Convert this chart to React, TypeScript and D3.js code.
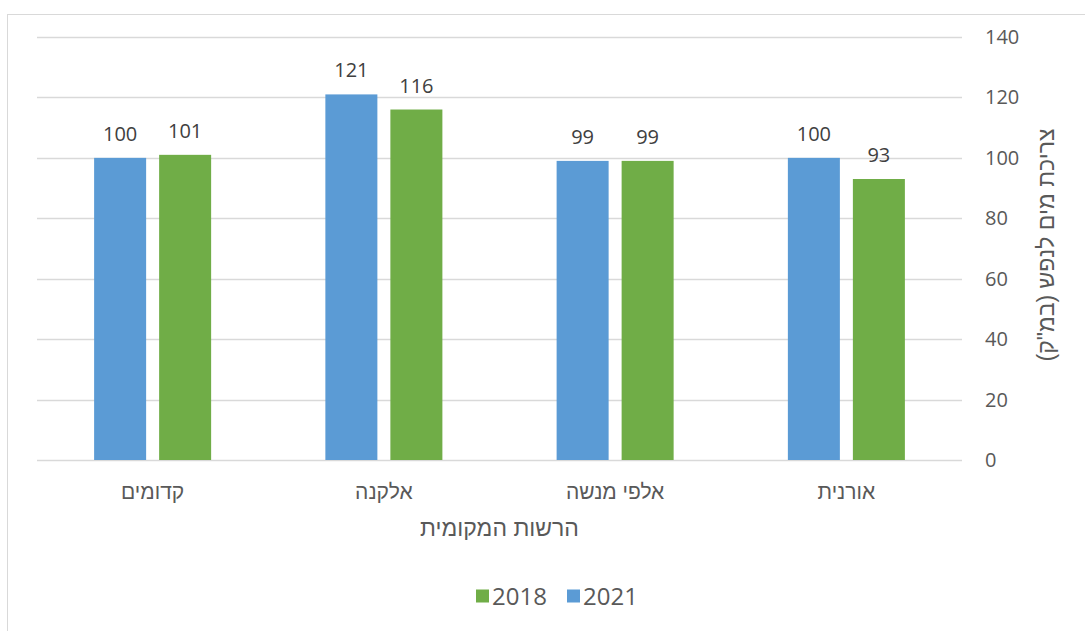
import { useEffect, useRef } from "react"
import * as d3 from "d3"

// categories listed right-to-left as in the original (RTL chart)
const towns = ["אורנית", "אלפי מנשה", "אלקנה", "קדומים"]
const years = ["2021", "2018"]
const values2021 = [100, 99, 121, 100]
const values2018 = [93, 99, 116, 101]
const yTicks = [0, 20, 40, 60, 80, 100, 120, 140]
const legendOrder = ["2018", "2021"]

const colors: Record<string, string> = { "2021": "#5B9BD5", "2018": "#70AD47" }

const W = 1085
const H = 631

export default function App() {
  const svgRef = useRef<SVGSVGElement>(null)

  useEffect(() => {
    if (!svgRef.current) return
    const svg = d3.select(svgRef.current)
    svg.selectAll("*").remove()

    const numFont = "'Open Sans', 'Liberation Sans', sans-serif"
    const hebFont = "'Liberation Sans', 'DejaVu Sans', sans-serif"
    const textColor = "#595959"

    // chart border
    svg.append("rect")
      .attr("x", 7.5).attr("y", 14.5)
      .attr("width", W + 20).attr("height", H + 20)
      .attr("fill", "#fff").attr("stroke", "#D9D9D9").attr("stroke-width", 1)

    const plot = { left: 37, right: 962, top: 37, bottom: 460 }

    const x0 = d3.scaleBand<string>()
      .domain([...towns].reverse())
      .range([plot.left, plot.right])
      .padding(0)

    const bw = x0.bandwidth()
    const x1 = d3.scaleBand<string>()
      .domain(years)
      .range([bw * 0.247, bw * 0.753])
      .paddingInner(0.2)

    const y = d3.scaleLinear().domain([0, 140]).range([plot.bottom, plot.top])

    // gridlines
    svg.append("g").selectAll("line")
      .data(yTicks)
      .join("line")
      .attr("x1", plot.left).attr("x2", plot.right)
      .attr("y1", (d) => Math.round(y(d)) + 0.5).attr("y2", (d) => Math.round(y(d)) + 0.5)
      .attr("stroke", "#D9D9D9").attr("stroke-width", 1.5)

    // right-hand y axis labels
    svg.append("g").selectAll("text")
      .data(yTicks)
      .join("text")
      .attr("x", 985)
      .attr("y", (d) => y(d))
      .attr("dy", "0.35em")
      .attr("fill", textColor)
      .attr("font-family", numFont)
      .attr("font-size", 20)
      .text((d) => d)

    const rows = towns.map((t, i) => ({
      town: t,
      series: [
        { year: "2021", value: values2021[i] },
        { year: "2018", value: values2018[i] },
      ],
    }))

    const groups = svg.append("g").selectAll("g")
      .data(rows)
      .join("g")
      .attr("transform", (d) => `translate(${x0(d.town)},0)`)

    groups.selectAll("rect")
      .data((d) => d.series)
      .join("rect")
      .attr("x", (d) => x1(d.year)!)
      .attr("width", x1.bandwidth())
      .attr("y", (d) => y(d.value))
      .attr("height", (d) => y(0) - y(d.value))
      .attr("fill", (d) => colors[d.year])

    groups.selectAll("text")
      .data((d) => d.series)
      .join("text")
      .attr("x", (d) => x1(d.year)! + x1.bandwidth() / 2)
      .attr("y", (d) => y(d.value) - 17)
      .attr("text-anchor", "middle")
      .attr("fill", "#404040")
      .attr("font-family", numFont)
      .attr("font-size", 20)
      .text((d) => d.value)

    // category labels
    svg.append("g").selectAll("text")
      .data(towns)
      .join("text")
      .attr("x", (d) => x0(d)! + bw / 2)
      .attr("y", 499)
      .attr("text-anchor", "middle")
      .attr("direction", "rtl")
      .attr("fill", textColor)
      .attr("font-family", hebFont)
      .attr("font-size", 21)
      .text((d) => d)

    // x axis title
    svg.append("text")
      .attr("x", (plot.left + plot.right) / 2)
      .attr("y", 536)
      .attr("text-anchor", "middle")
      .attr("direction", "rtl")
      .attr("fill", textColor)
      .attr("font-family", hebFont)
      .attr("font-size", 23)
      .text("הרשות המקומית")

    // y axis title (rotated)
    svg.append("text")
      .attr("transform", "translate(1046,245) rotate(-90)")
      .attr("text-anchor", "middle")
      .attr("direction", "rtl")
      .attr("dy", "0.35em")
      .attr("fill", textColor)
      .attr("font-family", hebFont)
      .attr("font-size", 23)
      .text("צריכת מים לנפש (במ\"ק)")

    // legend
    const legendX = d3.scalePoint<string>().domain(legendOrder).range([476, 567])
    const lg = svg.append("g").selectAll("g")
      .data(legendOrder)
      .join("g")
      .attr("transform", (d) => `translate(${legendX(d)},596)`)
    lg.append("rect")
      .attr("x", 0).attr("y", -6.5)
      .attr("width", 13).attr("height", 13)
      .attr("fill", (d) => colors[d])
    lg.append("text")
      .attr("x", 16)
      .attr("dy", "0.36em")
      .attr("fill", textColor)
      .attr("font-family", numFont)
      .attr("font-size", 24)
      .text((d) => d)
  }, [])

  return (
    <svg
      ref={svgRef}
      width={W}
      height={H}
      style={{ position: "absolute", left: 0, top: 0, background: "#fff" }}
    />
  )
}
